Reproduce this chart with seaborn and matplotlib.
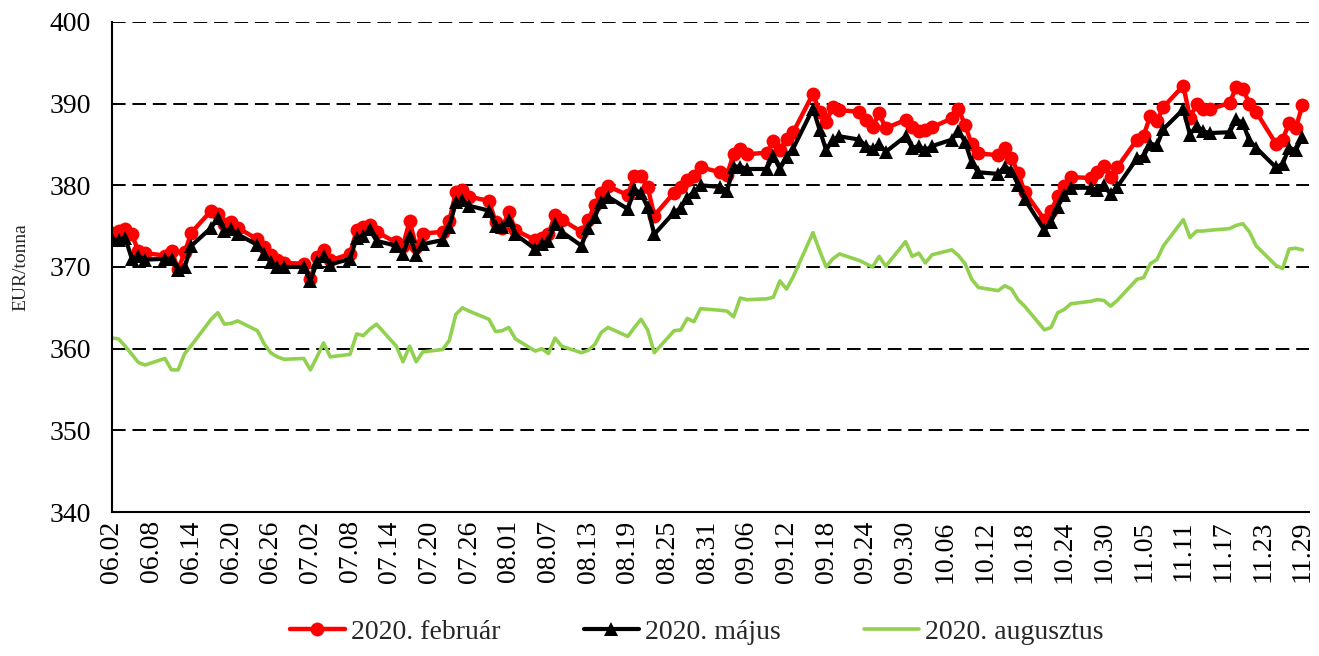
import matplotlib
matplotlib.use("Agg")
import matplotlib.pyplot as plt
import matplotlib.dates as mdates
import numpy as np
import pandas as pd
import seaborn as sns

# ── Data ─────────────────────────────────────────────────────────────
# trading days (first point 06.02, then Mon-Fri up to 11.29)
DATES = pd.DatetimeIndex(["2019-06-02"]).append(pd.bdate_range("2019-06-03", "2019-11-29"))

FEB = [374.2,
       374.4, 374.6, 374.0, 371.9, 371.7,
       371.4, 372.0, 369.7, 371.8, 374.2,
       376.9, 376.5, 375.3, 375.5, 374.8,
       373.4, 372.5, 371.5, 370.8, 370.5,
       370.4, 368.5, 371.2, 372.1, 370.8,
       371.6, 374.5, 374.9, 375.2, 374.3,
       373.0, 372.6, 375.6, 372.5, 374.1,
       374.3, 375.6, 379.2, 379.4, 378.6,
       378.1, 375.5, 374.8, 376.7, 374.5,
       373.3, 373.6, 374.0, 376.4, 375.8,
       374.3, 375.7, 377.6, 379.1, 379.9,
       378.8, 381.2, 381.2, 379.8, 376.3,
       379.1, 379.8, 380.6, 381.2, 382.2,
       381.6, 381.3, 383.8, 384.4, 383.8,
       384.0, 385.4, 384.3, 385.7, 386.5,
       391.2, 389.0, 387.8, 389.6, 389.2,
       389.0, 388.0, 387.2, 388.8, 387.0,
       388.0, 387.2, 386.6, 386.8, 387.1,
       388.2, 389.3, 387.4, 385.0, 383.9,
       383.7, 384.6, 383.4, 381.5, 379.2,
       375.8, 376.8, 378.7, 379.9, 381.0,
       380.9, 381.6, 382.4, 381.0, 382.2,
       385.6, 386.1, 388.5, 387.9, 389.6,
       392.2, 388.3, 389.9, 389.3, 389.3,
       390.1, 392.0, 391.8, 390.0, 389.0,
       385.1, 385.6, 387.6, 387.0, 389.8]

MAJ = [373.4,
       373.3, 373.6, 371.0, 371.3, 370.9,
       371.0, 371.0, 369.6, 370.0, 372.6,
       374.8, 376.0, 374.4, 374.6, 374.0,
       372.7, 371.6, 370.6, 370.0, 370.0,
       370.0, 368.3, 370.6, 371.3, 370.3,
       371.0, 373.6, 373.8, 374.6, 373.2,
       372.6, 371.6, 373.8, 371.5, 372.8,
       373.3, 374.9, 377.9, 378.2, 377.5,
       376.9, 375.0, 374.9, 375.8, 374.0,
       372.2, 372.8, 373.2, 375.3, 374.3,
       372.6, 374.8, 376.1, 378.0, 378.6,
       377.1, 379.5, 379.0, 377.3, 374.0,
       376.7, 377.2, 378.5, 379.2, 380.0,
       379.8, 379.3, 382.3, 382.3, 382.0,
       382.0, 383.6, 382.0, 383.5, 384.5,
       389.4, 386.8, 384.3, 385.6, 386.0,
       385.6, 384.8, 384.5, 385.0, 384.1,
       386.0, 384.6, 384.8, 384.3, 384.8,
       385.6, 386.7, 385.3, 382.8, 381.6,
       381.4, 382.3, 381.8, 380.1, 378.3,
       374.5, 375.5, 377.4, 378.8, 379.7,
       379.7, 379.4, 380.0, 378.9, 379.8,
       383.3, 383.6, 385.1, 384.9, 386.9,
       389.3, 386.2, 387.3, 386.6, 386.4,
       386.5, 388.1, 387.6, 385.5, 384.6,
       382.2, 382.6, 384.6, 384.3, 385.9]

AUG = [361.3,
       361.2, 360.3, 359.3, 358.3, 358.0,
       358.8, 357.4, 357.4, 359.4, 360.4,
       363.6, 364.4, 363.0, 363.1, 363.4,
       362.2, 360.6, 359.5, 359.0, 358.7,
       358.8, 357.4, 359.0, 360.7, 359.0,
       359.3, 361.8, 361.6, 362.4, 363.0,
       360.3, 358.4, 360.3, 358.4, 359.6,
       359.9, 361.0, 364.2, 365.0, 364.6,
       363.6, 362.1, 362.2, 362.6, 361.2,
       359.7, 360.0, 359.4, 361.3, 360.3,
       359.5, 359.8, 360.5, 362.0, 362.6,
       361.5, 362.6, 363.6, 362.3, 359.5,
       362.2, 362.3, 363.7, 363.3, 364.9,
       364.7, 364.6, 363.9, 366.2, 366.0,
       366.1, 366.3, 368.3, 367.3, 368.8,
       374.2, 372.0, 370.0, 371.0, 371.6,
       370.8, 370.4, 370.0, 371.3, 370.1,
       373.1, 371.3, 371.7, 370.5, 371.5,
       372.1, 371.4, 370.4, 368.5, 367.5,
       367.1, 367.7, 367.3, 366.0, 365.2,
       362.3, 362.6, 364.4, 364.8, 365.5,
       365.8, 366.0, 365.9, 365.2, 365.9,
       368.5, 368.7, 370.4, 370.9, 372.6,
       375.8, 373.6, 374.4, 374.4, 374.5,
       374.7, 375.1, 375.3, 374.3, 372.6,
       370.2, 369.8, 372.2, 372.3, 372.1]

LABELS = ["2020. február", "2020. május", "2020. augusztus"]
Y_TICKS = [340, 350, 360, 370, 380, 390, 400]

# ── Style ────────────────────────────────────────────────────────────
sns.set_style("white")
plt.rcParams["font.family"] = ["Liberation Serif", "DejaVu Serif"]

fig = plt.figure(figsize=(13.19, 6.56), dpi=100)
ax = fig.add_axes([0.0849, 0.2195, 0.9075, 0.747])

sns.lineplot(x=DATES, y=FEB, ax=ax, color="#FF0000", linewidth=3.2,
             marker="o", markersize=10, markeredgewidth=0, label=LABELS[0])
sns.lineplot(x=DATES, y=MAJ, ax=ax, color="#000000", linewidth=3.0,
             marker="^", markersize=9.5, markeredgewidth=0, label=LABELS[1])
sns.lineplot(x=DATES, y=AUG, ax=ax, color="#92D050", linewidth=2.6,
             label=LABELS[2])

ax.set_ylim(340, 400)
ax.set_yticks(Y_TICKS)
ax.set_xlim(pd.Timestamp("2019-06-02"), pd.Timestamp("2019-11-30"))
ax.set_xticks(pd.date_range("2019-06-02", "2019-11-29", freq="6D"))
ax.xaxis.set_major_formatter(mdates.DateFormatter("%m.%d"))
plt.setp(ax.get_xticklabels(), rotation=90)

ax.yaxis.grid(True, color="black", linestyle=(0, (7, 3.5)), linewidth=1.4)
ax.xaxis.grid(False)
for s in ["top", "right"]:
    ax.spines[s].set_visible(False)
for s in ["left", "bottom"]:
    ax.spines[s].set_color("black")
    ax.spines[s].set_linewidth(1.5)
ax.tick_params(axis="both", direction="out", length=6, width=1.3,
               colors="black", labelsize=20)
ax.tick_params(axis="x", pad=0)
ax.tick_params(axis="y", pad=9)
ax.set_xlabel("")
ax.set_ylabel("EUR/tonna", fontsize=14)
ax.yaxis.set_label_coords(-0.069, 0.5)

ax.get_legend().remove()
handles, labels = ax.get_legend_handles_labels()
fig.legend(handles, labels, loc="center", bbox_to_anchor=(0.528, 0.036),
           ncol=3, frameon=False, fontsize=20, handlelength=2.0,
           columnspacing=3.0, handletextpad=0.2)

plt.savefig("out.png", dpi=100)
plt.close()
